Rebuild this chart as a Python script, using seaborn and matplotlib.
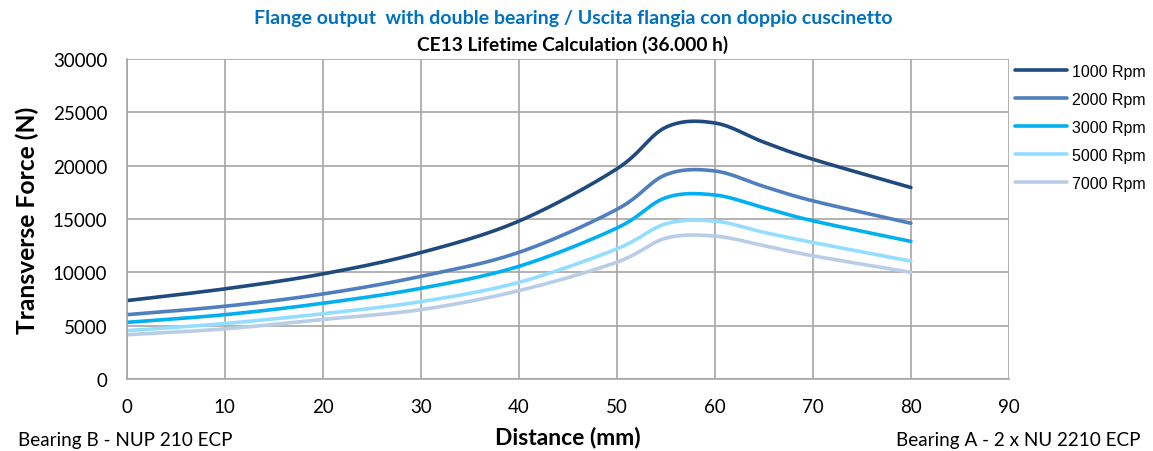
import numpy as np
import pandas as pd
import matplotlib
matplotlib.use("Agg")
import matplotlib.pyplot as plt
import seaborn as sns
from matplotlib.lines import Line2D

# Measurement positions along the shaft (mm)
distance = [0, 10, 20, 30, 40, 50, 55, 60, 65, 70, 80]

# Admissible transverse force (N) per speed
rpm_1000 = [7350, 8450, 9850, 11850, 14800, 19700, 23600, 24000, 22200, 20600, 17950]
rpm_2000 = [6030, 6820, 7970, 9620, 11870, 15900, 19150, 19500, 18050, 16700, 14600]
rpm_3000 = [5310, 6030, 7100, 8500, 10560, 14150, 17000, 17250, 16050, 14830, 12900]
rpm_5000 = [4530, 5200, 6120, 7250, 9060, 12200, 14550, 14800, 13750, 12800, 11050]
rpm_7000 = [4150, 4700, 5580, 6500, 8280, 10950, 13200, 13400, 12500, 11550, 10000]

series_labels = ["1000 Rpm", "2000 Rpm", "3000 Rpm", "5000 Rpm", "7000 Rpm"]
series_colors = ["#1F4A7E", "#4F7FBE", "#00B0F0", "#93DEFF", "#BACDE6"]

x_ticks = [0, 10, 20, 30, 40, 50, 60, 70, 80, 90]
y_ticks = [0, 5000, 10000, 15000, 20000, 25000, 30000]


def smooth_curve(x, y, steps=40):
    """Catmull-Rom style smoothing, like a spreadsheet 'smoothed line'."""
    x = np.asarray(x, float)
    y = np.asarray(y, float)
    n = len(x)
    xs, ys = [], []
    for i in range(n - 1):
        p0 = np.array([x[max(i - 1, 0)], y[max(i - 1, 0)]])
        p1 = np.array([x[i], y[i]])
        p2 = np.array([x[i + 1], y[i + 1]])
        p3 = np.array([x[min(i + 2, n - 1)], y[min(i + 2, n - 1)]])
        c1 = p1 + (p2 - p0) / 6.0
        c2 = p2 - (p3 - p1) / 6.0
        t = np.linspace(0, 1, steps, endpoint=(i == n - 2))[:, None]
        pts = ((1 - t) ** 3) * p1 + 3 * ((1 - t) ** 2) * t * c1 + 3 * (1 - t) * t ** 2 * c2 + t ** 3 * p2
        xs.append(pts[:, 0])
        ys.append(pts[:, 1])
    return np.concatenate(xs), np.concatenate(ys)


frames = []
for label, vals in zip(series_labels, [rpm_1000, rpm_2000, rpm_3000, rpm_5000, rpm_7000]):
    sx, sy = smooth_curve(distance, vals)
    frames.append(pd.DataFrame({"Distance": sx, "Force": sy, "Speed": label}))
curves = pd.concat(frames, ignore_index=True)

sns.set_style("white", {"text.color": "black", "axes.labelcolor": "black",
                        "xtick.color": "black", "ytick.color": "black"})
plt.rcParams["font.family"] = ["Lato", "DejaVu Sans"]

fig = plt.figure(figsize=(11.53, 4.52), dpi=100)
ax = fig.add_axes([0.110, 0.1593, 0.765, 0.708])

sns.lineplot(data=curves, x="Distance", y="Force", hue="Speed",
             palette=dict(zip(series_labels, series_colors)),
             linewidth=2.6, sort=False, estimator=None, ax=ax, legend=False)

ax.set_xlim(0, 90)
ax.set_ylim(0, 30000)
ax.set_xticks(x_ticks)
ax.set_yticks(y_ticks)
ax.set_xticklabels([str(v) for v in x_ticks], fontsize=13.5)
ax.set_yticklabels([str(v) for v in y_ticks], fontsize=13.5)
ax.tick_params(axis="y", length=0, pad=14, colors="black")
ax.tick_params(axis="x", length=0, pad=14, colors="black")
ax.grid(True, color="#A6A6A6", linewidth=1.2)
ax.set_axisbelow(True)
for side in ["top", "right"]:
    ax.spines[side].set_visible(False)
for side in ["left", "bottom"]:
    ax.spines[side].set_color("#A6A6A6")
    ax.spines[side].set_linewidth(1.2)

ax.set_xlabel("Distance (mm)", fontsize=16.5, fontweight="bold", labelpad=7, color="black")
ax.set_ylabel("Transverse Force (N)", fontsize=17.7, fontweight="bold", labelpad=10, color="black")

fig.text(0.497, 0.958, "Flange output  with double bearing / Uscita flangia con doppio cuscinetto",
         ha="center", va="center", fontsize=14, fontweight="bold", color="#0070C0")
fig.text(0.497, 0.900, "CE13 Lifetime Calculation (36.000 h)",
         ha="center", va="center", fontsize=13.8, fontweight="bold", color="black")

fig.text(0.016, 0.025, "Bearing B - NUP 210 ECP", ha="left", va="center", fontsize=13.6)
fig.text(0.989, 0.025, "Bearing A - 2 x NU 2210 ECP", ha="right", va="center", fontsize=13.6)

handles = [Line2D([0], [0], color=c, linewidth=2.6) for c in series_colors]
fig.legend(handles, series_labels, loc="upper left", bbox_to_anchor=(0.880, 0.857),
           frameon=False, borderpad=0, borderaxespad=0, handlelength=3.3, handletextpad=0.3,
           labelspacing=0.82, prop={"family": "Liberation Sans", "size": 11.5})

fig.savefig("out.png", dpi=100)
